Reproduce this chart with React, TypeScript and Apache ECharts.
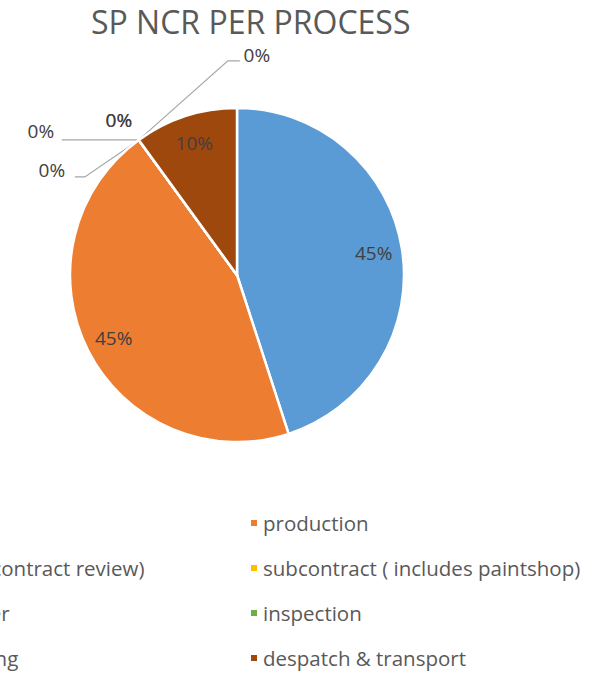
import React, { useEffect, useRef } from 'react';
import * as echarts from 'echarts';

// ---- data ----
const titleText = 'SP NCR PER PROCESS';
const categories = [
  'quality',
  'production',
  'sales (includes contract review)',
  'subcontract ( includes paintshop)',
  'external supplier',
  'inspection',
  'design & detailing',
  'despatch & transport',
];
const values = [9, 9, 0, 0, 0, 0, 0, 2];
const colors = ['#5B9BD5', '#ED7D31', '#A5A5A5', '#FFC000', '#4472C4', '#70AD47', '#255E91', '#9E480E'];

// ---- layout ----
const FONT = '"Open Sans", "Noto Sans", sans-serif';
const CX = 237;
const CY = 275;
const R = 167;
const INSIDE_RATIO = 0.8;
// placement of the small (zero) slice labels, relative to the slice's edge point
const zeroPlacement: Record<number, { dx: number; dy: number; line: number[][] | null }> = {
  2: { dx: 118, dy: -85, line: [[89, -79], [101, -79]] },
  3: { dx: -20, dy: -20, line: null },
  4: { dx: -20, dy: -20, line: null },
  5: { dx: -98, dy: -9, line: [[-38, 0], [-77, 0]] },
  6: { dx: -87, dy: 30, line: [[-54, 37], [-64, 37]] },
};

export default function App() {
  const ref = useRef<HTMLDivElement>(null);
  useEffect(() => {
    if (!ref.current) return;
    const chart = echarts.init(ref.current, undefined, { renderer: 'svg' });
    const legendBase = {
      orient: 'vertical',
      top: 511,
      height: 175,
      padding: 0,
      icon: 'rect',
      itemWidth: 8,
      itemHeight: 8,
      itemGap: 21,
      selectedMode: false,
      textStyle: { fontSize: 20.5, color: '#595959', fontFamily: FONT, lineHeight: 24 },
    };
    chart.setOption({
      animation: false,
      color: colors,
      title: {
        text: titleText,
        left: 86,
        top: 0,
        textStyle: { fontSize: 32, fontWeight: 'normal', color: '#595959', fontFamily: FONT },
      },
      legend: [
        {
          ...legendBase,
          data: categories.filter((_, i) => i % 2 === 1),
          left: 249,
        },
        {
          ...legendBase,
          data: categories.filter((_, i) => i % 2 === 0),
          left: -166,
        },
      ],
      series: [
        {
          type: 'pie',
          center: [CX, CY],
          radius: R,
          startAngle: 90,
          clockwise: true,
          avoidLabelOverlap: false,
          itemStyle: { borderColor: '#ffffff', borderWidth: 2.5 },
          label: {
            show: true,
            position: 'inside',
            fontSize: 19,
            color: '#404040',
            fontFamily: FONT,
            formatter: (p: any) => Math.round(p.percent) + '%',
          },
          labelLine: { lineStyle: { color: '#A6A6A6', width: 1.2 } },
          labelLayout: (params: any) => {
            const i = params.dataIndex;
            const rect = params.labelRect;
            const lx = rect.x + rect.width / 2;
            const ly = rect.y + rect.height / 2;
            const z = zeroPlacement[i];
            if (z && params.labelLinePoints) {
              const [ex, ey] = params.labelLinePoints[0];
              const out: any = {
                x: ex + z.dx,
                y: ey + z.dy,
                align: 'center',
                verticalAlign: 'middle',
              };
              if (z.line) {
                out.labelLinePoints = [[ex, ey], ...z.line.map(([a, b]) => [ex + a, ey + b])];
              }
              return out;
            }
            if (z) return {};
            const k = INSIDE_RATIO / 0.5;
            return {
              x: CX + (lx - CX) * k,
              y: CY + (ly - CY) * k,
              align: 'center',
              verticalAlign: 'middle',
            };
          },
          data: categories.map((name, i) => {
            const item: any = { name, value: values[i] };
            if (zeroPlacement[i]) {
              item.label = { position: 'outside' };
              item.labelLine = { show: !!zeroPlacement[i].line, length: 10, length2: 10 };
            }
            return item;
          }),
        },
      ],
    });
    return () => chart.dispose();
  }, []);
  return (
    <div
      ref={ref}
      style={{ position: 'fixed', left: 0, top: 0, width: 595, height: 673, background: '#ffffff' }}
    />
  );
}
